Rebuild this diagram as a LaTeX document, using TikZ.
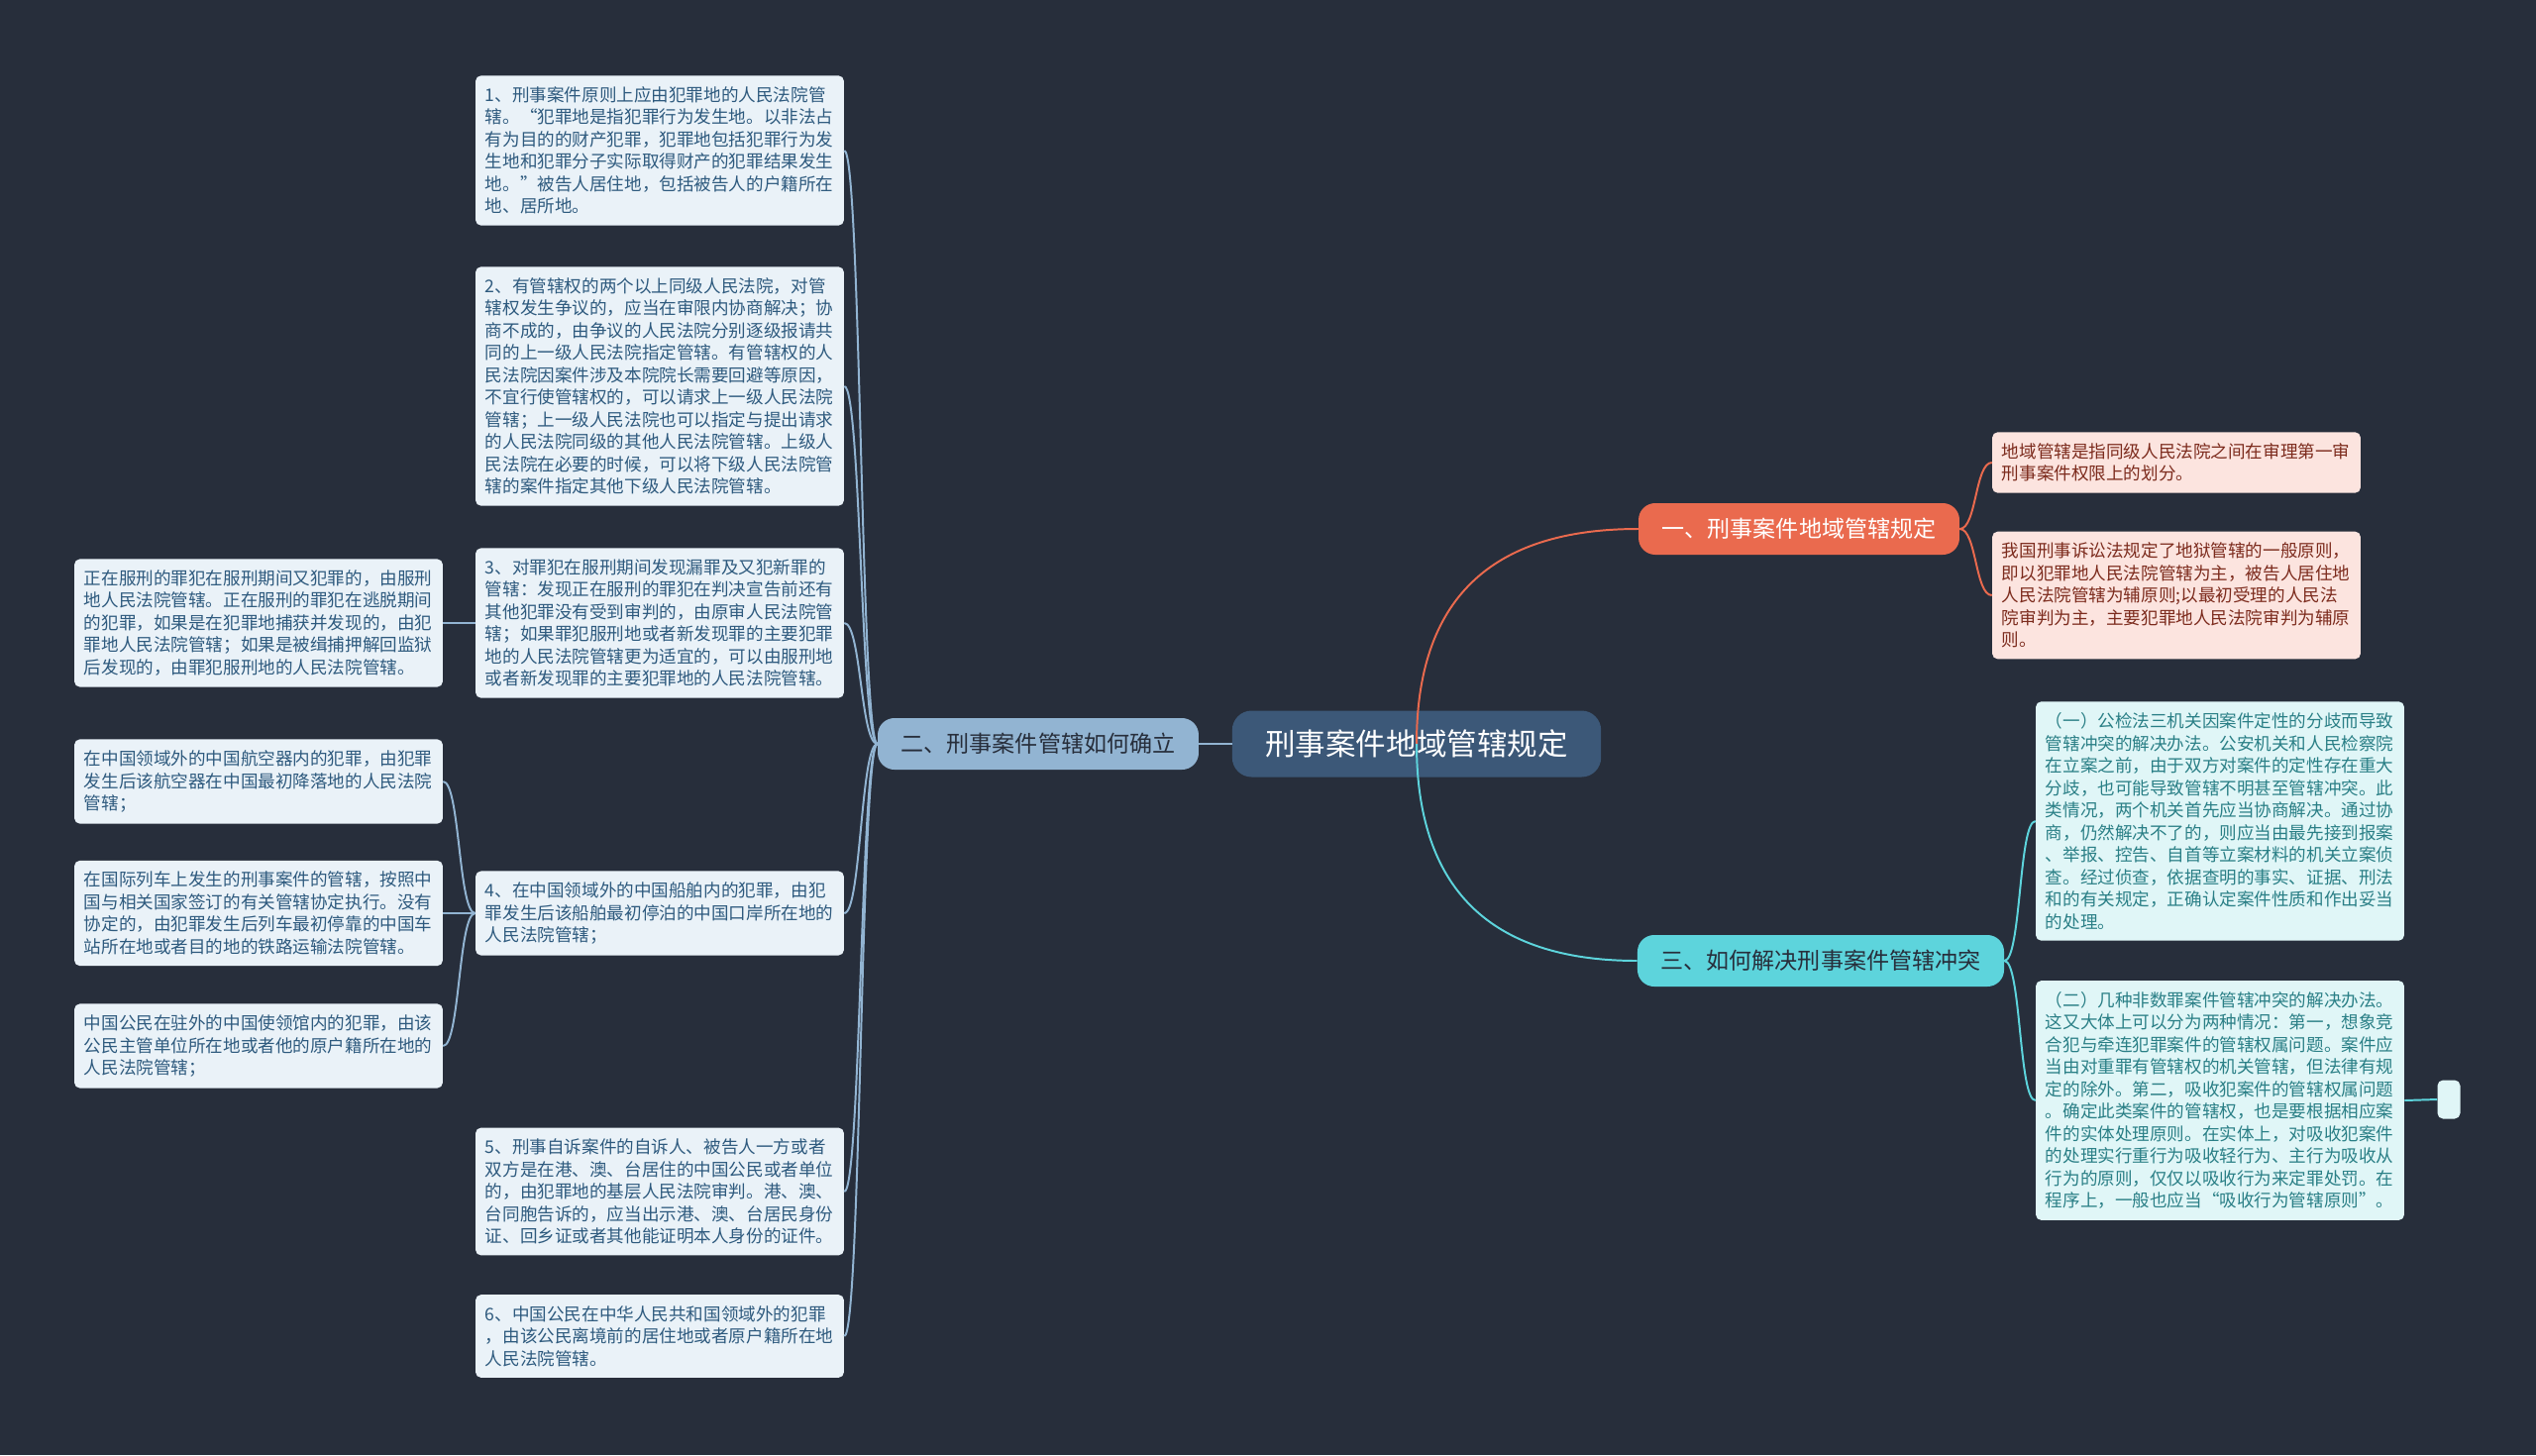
\documentclass[tikz,border=0pt]{standalone}
\usepackage{fontspec}
\setmainfont{Noto Sans CJK SC}
\definecolor{bgcol}{HTML}{272E3B}
\definecolor{rootfill}{HTML}{3C5878}
\definecolor{onefill}{HTML}{EA6A4E}
\definecolor{twofill}{HTML}{92B4D2}
\definecolor{threefill}{HTML}{5DD4DC}
\definecolor{lfill}{HTML}{EAF2F8}
\definecolor{ltext}{HTML}{2E5A7E}
\definecolor{pfill}{HTML}{FCE4DF}
\definecolor{ptext}{HTML}{7C2B1D}
\definecolor{cfill}{HTML}{E0F6F7}
\definecolor{ctext}{HTML}{2A7F86}

\begin{document}
\begin{tikzpicture}[x=0.025cm, y=-0.025cm,
		box/.style={rounded corners=4pt, inner xsep=7pt, inner ysep=8pt, text width=250.5pt, align=left, font=\fontsize{12.5pt}{16pt}\selectfont},
		lbox/.style={box, fill=lfill, text=ltext},
		pbox/.style={box, fill=pfill, text=ptext},
		cbox/.style={box, fill=cfill, text=ctext},
		topic/.style={rounded corners=12pt, minimum height=1.3cm, inner xsep=0.59cm, font=\fontsize{16.4pt}{18pt}\selectfont},
		toleft/.style={out=180, in=0, distance=0.425cm},
		toright/.style={out=0, in=180, distance=0.425cm},
		conn/.style={line width=1.4pt}]
			\fill[bgcol] (0,0) rectangle (2560,1469);

			% centre and main branches
			\node[rounded corners=14pt, fill=rootfill, text=white, minimum height=1.675cm, inner xsep=0.84cm, font=\fontsize{21.7pt}{24pt}\selectfont] (root) at (1430,751) {刑事案件地域管辖规定};
			\node[topic, fill=onefill, text=white] (b1) at (1816,534) {一、刑事案件地域管辖规定};
			\node[topic, fill=twofill, text=bgcol] (b2) at (1048,751) {二、刑事案件管辖如何确立};
			\node[topic, fill=threefill, text=bgcol] (b3) at (1838,970) {三、如何解决刑事案件管辖冲突};

			% Branch 1 (right, top)
			\node[pbox] (b1l1) at (2197,467) {地域管辖是指同级人民法院之间在审理第一审\\刑事案件权限上的划分。};
			\node[pbox] (b1l2) at (2197,601) {我国刑事诉讼法规定了地狱管辖的一般原则，\\即以犯罪地人民法院管辖为主，被告人居住地\\人民法院管辖为辅原则;以最初受理的人民法\\院审判为主，主要犯罪地人民法院审判为辅原\\则。};

			% Branch 3 (right, bottom)
			\node[cbox] (b3l1) at (2241,829) {（一）公检法三机关因案件定性的分歧而导致\\管辖冲突的解决办法。公安机关和人民检察院\\在立案之前，由于双方对案件的定性存在重大\\分歧，也可能导致管辖不明甚至管辖冲突。此\\类情况，两个机关首先应当协商解决。通过协\\商，仍然解决不了的，则应当由最先接到报案\\、举报、控告、自首等立案材料的机关立案侦\\查。经过侦查，依据查明的事实、证据、刑法\\和的有关规定，正确认定案件性质和作出妥当\\的处理。};
			\node[cbox] (b3l2) at (2241,1111) {（二）几种非数罪案件管辖冲突的解决办法。\\这又大体上可以分为两种情况：第一，想象竞\\合犯与牵连犯罪案件的管辖权属问题。案件应\\当由对重罪有管辖权的机关管辖，但法律有规\\定的除外。第二，吸收犯案件的管辖权属问题\\。确定此类案件的管辖权，也是要根据相应案\\件的实体处理原则。在实体上，对吸收犯案件\\的处理实行重行为吸收轻行为、主行为吸收从\\行为的原则，仅仅以吸收行为来定罪处罚。在\\程序上，一般也应当“吸收行为管辖原则”。};
			\node[rounded corners=4pt, fill=cfill, minimum width=0.575cm, minimum height=0.975cm, inner sep=0pt] (b3l2e) at (2472,1110) {};

			% Branch 2 (left)
			\node[lbox] (b2l1) at (666,152) {1、刑事案件原则上应由犯罪地的人民法院管\\辖。“犯罪地是指犯罪行为发生地。以非法占\\有为目的的财产犯罪，犯罪地包括犯罪行为发\\生地和犯罪分子实际取得财产的犯罪结果发生\\地。”被告人居住地，包括被告人的户籍所在\\地、居所地。};
			\node[lbox] (b2l2) at (666,390) {2、有管辖权的两个以上同级人民法院，对管\\辖权发生争议的，应当在审限内协商解决；协\\商不成的，由争议的人民法院分别逐级报请共\\同的上一级人民法院指定管辖。有管辖权的人\\民法院因案件涉及本院院长需要回避等原因，\\不宜行使管辖权的，可以请求上一级人民法院\\管辖；上一级人民法院也可以指定与提出请求\\的人民法院同级的其他人民法院管辖。上级人\\民法院在必要的时候，可以将下级人民法院管\\辖的案件指定其他下级人民法院管辖。};
			\node[lbox] (b2l3) at (666,629) {3、对罪犯在服刑期间发现漏罪及又犯新罪的\\管辖：发现正在服刑的罪犯在判决宣告前还有\\其他犯罪没有受到审判的，由原审人民法院管\\辖；如果罪犯服刑地或者新发现罪的主要犯罪\\地的人民法院管辖更为适宜的，可以由服刑地\\或者新发现罪的主要犯罪地的人民法院管辖。};
			\node[lbox] (b2l3a) at (261,629) {正在服刑的罪犯在服刑期间又犯罪的，由服刑\\地人民法院管辖。正在服刑的罪犯在逃脱期间\\的犯罪，如果是在犯罪地捕获并发现的，由犯\\罪地人民法院管辖；如果是被缉捕押解回监狱\\后发现的，由罪犯服刑地的人民法院管辖。};
			\node[lbox] (b2l4) at (666,922) {4、在中国领域外的中国船舶内的犯罪，由犯\\罪发生后该船舶最初停泊的中国口岸所在地的\\人民法院管辖；};
			\node[lbox] (b2l4a) at (261,789) {在中国领域外的中国航空器内的犯罪，由犯罪\\发生后该航空器在中国最初降落地的人民法院\\管辖；};
			\node[lbox] (b2l4b) at (261,922) {在国际列车上发生的刑事案件的管辖，按照中\\国与相关国家签订的有关管辖协定执行。没有\\协定的，由犯罪发生后列车最初停靠的中国车\\站所在地或者目的地的铁路运输法院管辖。};
			\node[lbox] (b2l4c) at (261,1056) {中国公民在驻外的中国使领馆内的犯罪，由该\\公民主管单位所在地或者他的原户籍所在地的\\人民法院管辖；};
			\node[lbox] (b2l5) at (666,1203) {5、刑事自诉案件的自诉人、被告人一方或者\\双方是在港、澳、台居住的中国公民或者单位\\的，由犯罪地的基层人民法院审判。港、澳、\\台同胞告诉的，应当出示港、澳、台居民身份\\证、回乡证或者其他能证明本人身份的证件。};
			\node[lbox] (b2l6) at (666,1349) {6、中国公民在中华人民共和国领域外的犯罪\\，由该公民离境前的居住地或者原户籍所在地\\人民法院管辖。};

			% connectors
			\draw[conn, onefill] (b1.east) to[toright] (b1l1.west);
			\draw[conn, onefill] (b1.east) to[toright] (b1l2.west);
			\draw[conn, threefill] (b3.east) to[toright] (b3l1.west);
			\draw[conn, threefill] (b3.east) to[toright] (b3l2.west);
			\draw[conn, threefill] (b3l2.east) -- (b3l2e.west);
			\draw[conn, twofill] (root.west) -- (b2.east);
			\foreach \n in {b2l1,b2l2,b2l3,b2l4,b2l5,b2l6}
				\draw[conn, twofill] (b2.west) to[toleft] (\n.east);
			\draw[conn, twofill] (b2l3.west) to[toleft] (b2l3a.east);
			\foreach \n in {b2l4a,b2l4b,b2l4c}
				\draw[conn, twofill] (b2l4.west) to[toleft] (\n.east);
			\draw[conn, onefill] (root.center) .. controls +(0,-145) and +(-150,0) .. (b1.west);
			\draw[conn, threefill] (root.center) .. controls +(0,145) and +(-150,0) .. (b3.west);
\end{tikzpicture}
\end{document}
